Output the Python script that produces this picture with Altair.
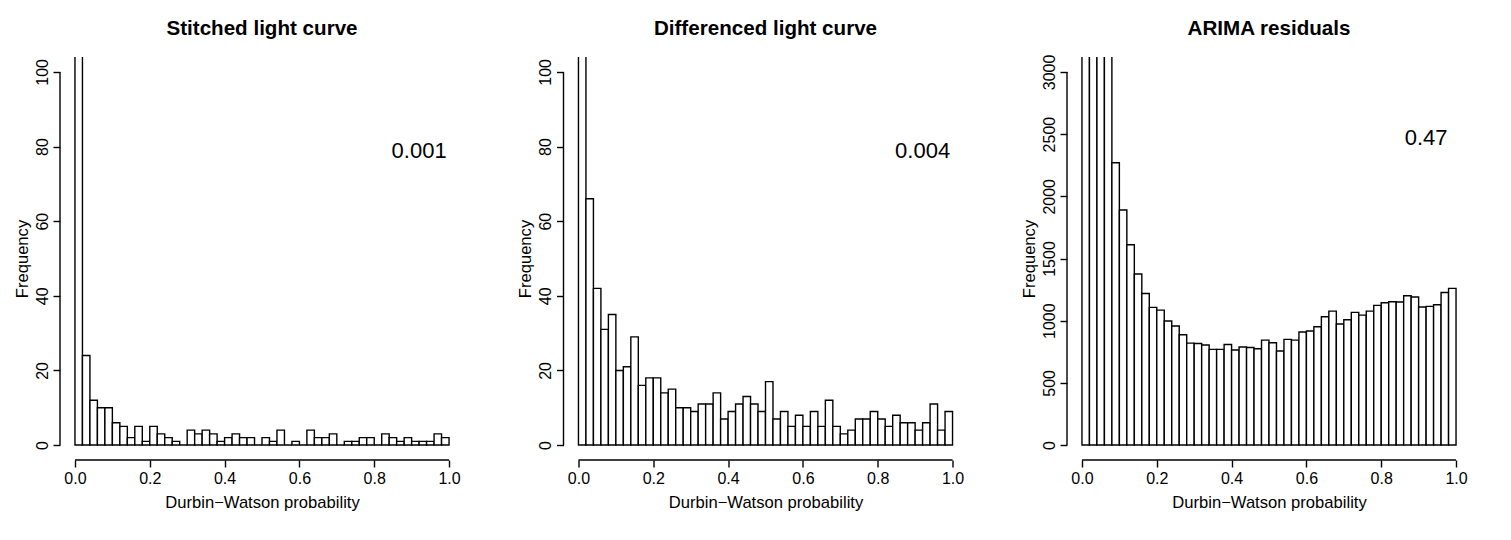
import altair as alt
import pandas as pd

bin_edges = [round(i * 0.02, 2) for i in range(51)]

stitched_counts = [349, 24, 12, 10, 10, 6, 5, 2, 5, 1, 5, 3, 2, 1, 0, 4, 3, 4, 3, 1,
                   2, 3, 2, 2, 0, 2, 1, 4, 0, 1, 0, 4, 2, 2, 3, 0, 1, 1, 2, 2,
                   0, 3, 2, 1, 2, 1, 1, 1, 3, 2]
differenced_counts = [180, 66, 42, 31, 35, 20, 21, 29, 16, 18, 18, 14, 15, 10, 10, 9, 11, 11, 14, 7,
                      9, 11, 13, 11, 9, 17, 7, 9, 5, 8, 5, 9, 5, 12, 5, 3, 4, 7, 7, 9,
                      7, 5, 8, 6, 6, 4, 6, 11, 4, 9]
arima_counts = [7200, 5200, 4100, 3400, 2270, 1890, 1610, 1375, 1219, 1107, 1085, 997, 957, 887, 820,
                817, 804, 769, 769, 809, 764, 788, 785, 775, 844, 823, 756, 850, 844, 909,
                917, 951, 1032, 1077, 973, 1008, 1067, 1045, 1077, 1123, 1144, 1152, 1150, 1201, 1190,
                1110, 1115, 1128, 1227, 1260]

titles = ["Stitched light curve", "Differenced light curve", "ARIMA residuals"]
annotations = ["0.001", "0.004", "0.47"]
annot_x = [0.92, 0.92, 0.92]
annot_y = [76.9, 76.9, 2413]
y_max = [100, 100, 3000]
y_ticks = [[0, 20, 40, 60, 80, 100], [0, 20, 40, 60, 80, 100],
           [0, 500, 1000, 1500, 2000, 2500, 3000]]
x_ticks = [0.0, 0.2, 0.4, 0.6, 0.8, 1.0]
x_title = "Durbin\u2212Watson probability"
y_title = "Frequency"

W, H = 404, 403
FONT = "Liberation Sans"
LW = 1.4


def panel(counts, title, ymax, yticks, label, lx, ly):
    df = pd.DataFrame({"start": bin_edges[:-1], "end": bin_edges[1:], "count": counts})
    pad = ymax * 0.04
    xs = alt.Scale(domain=[-0.04, 1.04], nice=False, zero=False)
    ys = alt.Scale(domain=[-pad, ymax + pad], nice=False, zero=False)
    bars = alt.Chart(df).mark_rect(fill="white", stroke="black", strokeWidth=LW, clip=True).encode(
        x=alt.X("start:Q", scale=xs,
                axis=alt.Axis(values=x_ticks, format=".1f", title=x_title)),
        x2="end:Q",
        y=alt.Y("count:Q", scale=ys, axis=alt.Axis(values=yticks, format="d", title=y_title)),
        y2=alt.datum(0),
    )
    yline = alt.Chart(pd.DataFrame({"count": [0], "end": [ymax]})).mark_rule(
        color="black", strokeWidth=LW).encode(
        x=alt.value(0), y="count:Q", y2="end:Q")
    xline = alt.Chart(pd.DataFrame({"start": [0.0], "end": [1.0]})).mark_rule(
        color="black", strokeWidth=LW).encode(
        x="start:Q", x2="end:Q", y=alt.value(H))
    txt = alt.Chart(pd.DataFrame({"start": [lx], "count": [ly], "label": [label]})).mark_text(
        font=FONT, fontSize=22, align="center", baseline="alphabetic", color="black").encode(
        x="start:Q", y="count:Q", text="label:N")
    ttl = alt.Chart(pd.DataFrame({"label": [title]})).mark_text(
        font=FONT, fontSize=20.6, fontWeight="bold", align="center", baseline="alphabetic",
        color="black").encode(
        x=alt.value(W / 2), y=alt.value(-22), text="label:N")
    return alt.layer(bars, yline, xline, txt, ttl).properties(width=W, height=H)


panels = [panel(c, t, m, yt, a, ax, ay) for c, t, m, yt, a, ax, ay in
          zip([stitched_counts, differenced_counts, arima_counts], titles, y_max, y_ticks,
              annotations, annot_x, annot_y)]

chart = alt.hconcat(*panels, spacing=99.5, bounds="flush").properties(
    padding={"left": 14, "top": 19, "right": 5, "bottom": 5},
    background="white",
).configure_axis(
    labelFont=FONT, titleFont=FONT, labelFontSize=16, titleFontSize=16.6,
    labelColor="black", titleColor="black", tickColor="black", tickWidth=LW,
    tickSize=7, grid=False, domain=False, titleFontWeight="normal",
).configure_axisX(
    labelPadding=3, labelAngle=0, titleY=47, titleBaseline="alphabetic",
).configure_axisY(
    labelAngle=270, labelAlign="center", labelBaseline="alphabetic", labelPadding=6,
    titleAngle=270, titleX=-33, titleY=H / 2, titleAlign="center", titleBaseline="alphabetic",
).configure_view(stroke=None)

chart.save("out.html", embed_options={"renderer": "svg", "actions": False})
